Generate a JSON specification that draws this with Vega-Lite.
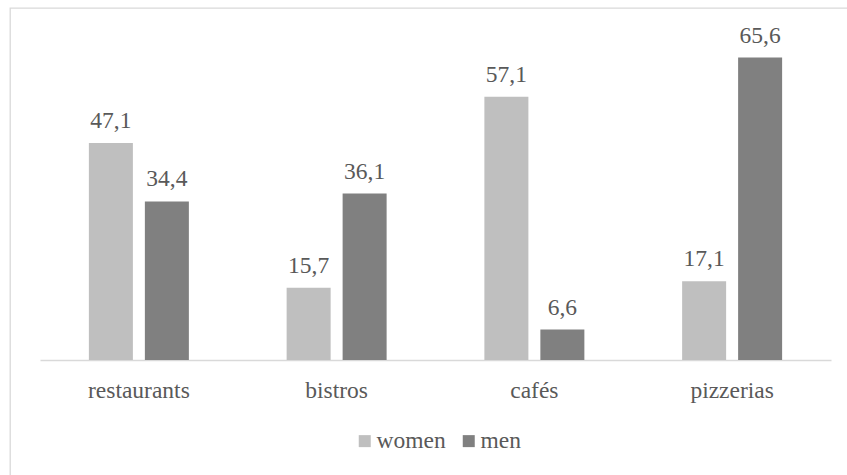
{
  "$schema": "https://vega.github.io/schema/vega-lite/v6.json",
  "width": 847,
  "height": 475,
  "autosize": {"type": "none"},
  "padding": {"left": 10, "top": 8, "right": 0, "bottom": 0},
  "background": "white",
  "config": {
    "view": {"stroke": "#D9D9D9", "strokeWidth": 1.3},
    "font": "Liberation Serif",
    "locale": {
      "number": {"decimal": ",", "thousands": ".", "grouping": [3], "currency": ["", " €"]}
    }
  },
  "data": {
    "values": [
      {"venue": "restaurants", "sex": "women", "pct": 47.1},
      {"venue": "restaurants", "sex": "men", "pct": 34.4},
      {"venue": "bistros", "sex": "women", "pct": 15.7},
      {"venue": "bistros", "sex": "men", "pct": 36.1},
      {"venue": "cafés", "sex": "women", "pct": 57.1},
      {"venue": "cafés", "sex": "men", "pct": 6.6},
      {"venue": "pizzerias", "sex": "women", "pct": 17.1},
      {"venue": "pizzerias", "sex": "men", "pct": 65.6}
    ]
  },
  "encoding": {
    "x": {
      "field": "venue",
      "type": "nominal",
      "sort": ["restaurants", "bistros", "cafés", "pizzerias"],
      "scale": {"range": [30, 821], "paddingInner": 0, "paddingOuter": 0},
      "axis": {
        "orient": "bottom",
        "offset": -123,
        "title": null,
        "labelAngle": 0,
        "domainColor": "#D9D9D9",
        "domainWidth": 1.3,
        "ticks": false,
        "tickSize": 0,
        "labelFont": "Liberation Serif",
        "labelFontSize": 23.5,
        "labelColor": "#595959",
        "labelBaseline": "alphabetic",
        "labelPadding": 37
      }
    },
    "xOffset": {
      "field": "sex",
      "type": "nominal",
      "sort": ["women", "men"],
      "scale": {"paddingInner": 0.214, "paddingOuter": 0.873}
    },
    "y": {
      "field": "pct",
      "type": "quantitative",
      "scale": {"domain": [0, 76.36], "range": [352, 0]},
      "axis": null
    }
  },
  "layer": [
    {
      "mark": {"type": "bar"},
      "encoding": {
        "color": {
          "field": "sex",
          "type": "nominal",
          "sort": ["women", "men"],
          "scale": {"domain": ["women", "men"], "range": ["#BFBFBF", "#808080"]},
          "legend": {
            "orient": "none",
            "legendX": 343,
            "legendY": 421,
            "direction": "horizontal",
            "title": null,
            "padding": 0,
            "symbolType": "square",
            "symbolSize": 144,
            "symbolStrokeWidth": 0,
            "labelFont": "Liberation Serif",
            "labelFontSize": 23.5,
            "labelColor": "#595959",
            "labelOffset": 0,
            "columnPadding": 11
          }
        }
      }
    },
    {
      "mark": {
        "type": "text",
        "baseline": "alphabetic",
        "dy": -15,
        "fontSize": 23.5,
        "font": "Liberation Serif",
        "color": "#595959"
      },
      "encoding": {
        "text": {"field": "pct", "type": "quantitative", "format": ".1f"}
      }
    }
  ]
}
